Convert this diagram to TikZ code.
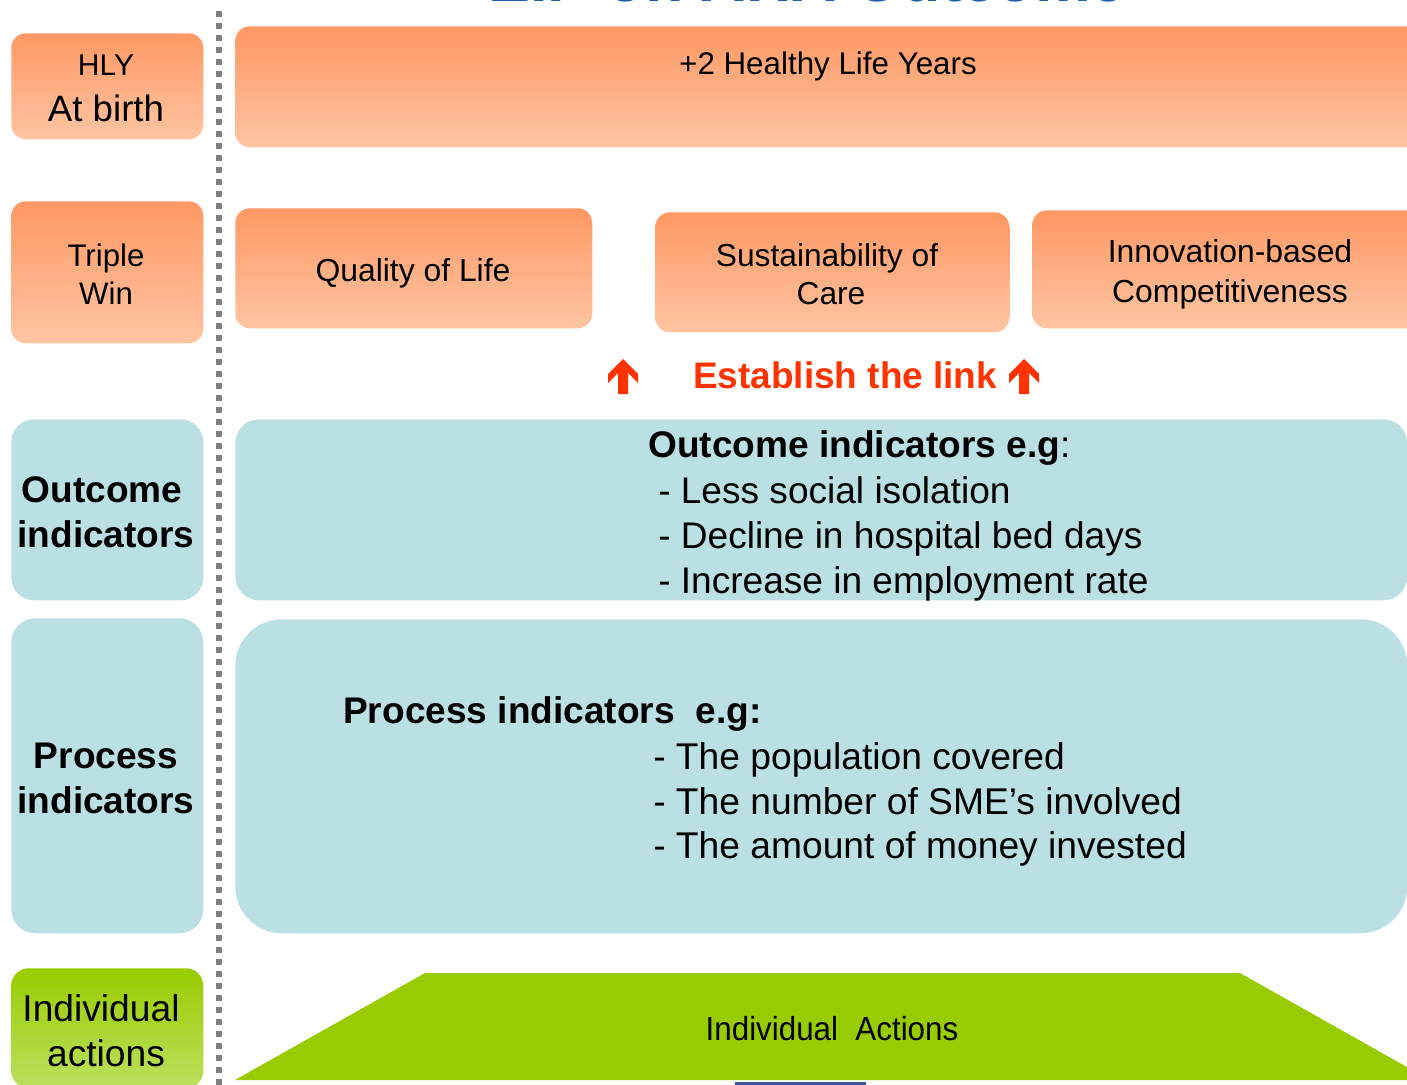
\documentclass[tikz,border=0pt]{standalone}
\usepackage{fontspec}
\setmainfont{Liberation Sans}
\definecolor{orTop}{RGB}{255,152,100}
\definecolor{orBot}{RGB}{255,197,162}
\definecolor{lblue}{RGB}{186,224,227}
\definecolor{lgreen}{RGB}{153,204,0}
\definecolor{lgreenB}{RGB}{188,224,95}
\definecolor{linkred}{RGB}{255,51,0}
\definecolor{titleblue}{RGB}{31,94,165}
\definecolor{dotgray}{RGB}{128,128,128}
\definecolor{barblue}{RGB}{59,89,152}
\newcommand\myfs[1]{\fontsize{#1pt}{#1pt}\selectfont}
\newcommand\mybfs[1]{\bfseries\fontsize{#1pt}{#1pt}\selectfont}
\begin{document}
\begin{tikzpicture}[x=0.75pt,y=-0.75pt,
  box/.style={rectangle, draw=none, inner sep=0pt, anchor=north west},
  obox/.style={box, rounded corners=11pt, top color=orTop, bottom color=orBot},
  bbox/.style={box, fill=lblue},
  gbox/.style={box, rounded corners=13pt, top color=lgreen, bottom color=lgreenB},
  lbl/.style={inner sep=0pt, anchor=base},
  lblw/.style={inner sep=0pt, anchor=base west},
  dotline/.style={draw=dotgray, line width=4.5pt, dash pattern=on 4.5pt off 4.5pt},
  uparrow/.pic={\fill[linkred] (0,0) -- (-15,15) -- (-15,24) -- (-5,14) -- (-5,35) -- (5,35) -- (5,14) -- (15,24) -- (15,15) -- cycle;}
]
\useasboundingbox (0,0) rectangle (1407,1085);
\clip (0,0) rectangle (1407,1085);

% title (cut off at the top)
\node[lbl, font=\mybfs{47}, text=titleblue] (title) at (807,2) {EIP on AHA Outcome};

% dotted separator
\draw[dotline] (219,11) -- (219,1095);

% left column
\node[obox, minimum width=144pt, minimum height=79.5pt] (hlyL) at (11,33) {};
\node[obox, minimum width=144pt, minimum height=106.5pt] (triL) at (11,201) {};
\node[bbox, rounded corners=17pt, minimum width=144pt, minimum height=135.75pt] (outL) at (11,419) {};
\node[bbox, rounded corners=18pt, minimum width=144pt, minimum height=236.25pt] (proL) at (11,618) {};
\node[gbox, minimum width=144pt, minimum height=90pt] (indL) at (11,968) {};

\node[lbl, font=\myfs{22.5}] (tHLY) at (106,75) {HLY};
\node[lbl, font=\myfs{27.5}] (tAtb) at (106,121) {At birth};
\node[lbl, font=\myfs{23.4}] (tTri) at (106,266) {Triple};
\node[lbl, font=\myfs{23.4}] (tWin) at (106,304) {Win};
\node[lbl, font=\mybfs{27.8}] (tOut1) at (102,502) {Outcome};
\node[lbl, font=\mybfs{27.8}] (tOut2) at (106,547) {indicators};
\node[lbl, font=\mybfs{27.8}] (tPro1) at (106,768) {Process};
\node[lbl, font=\mybfs{27.8}] (tPro2) at (106,813) {indicators};
\node[lbl, font=\myfs{27.9}] (tInd1) at (101,1021) {Individual};
\node[lbl, font=\myfs{27.9}] (tInd2) at (106,1066) {actions};

% right column boxes
\node[obox, minimum width=903.75pt, minimum height=90.75pt] (hlyR) at (235,26) {};
\node[obox, minimum width=267.75pt, minimum height=90pt] (qol) at (235,208) {};
\node[obox, minimum width=265.5pt, minimum height=90pt] (sus) at (655,212) {};
\node[obox, minimum width=300pt, minimum height=88.5pt] (inn) at (1032,210) {};
\node[bbox, rounded corners=18pt, minimum width=879pt, minimum height=135.75pt] (outR) at (235,419) {};
\node[bbox, rounded corners=35pt, minimum width=879pt, minimum height=235.5pt] (proR) at (235,619) {};

\node[lbl, font=\myfs{23.5}] (tHLYR) at (828,74) {+2 Healthy Life Years};
\node[lbl, font=\myfs{23.9}] (tQoL) at (413,281) {Quality of Life};
\node[lbl, font=\myfs{23.8}] (tSus1) at (827,266) {Sustainability of};
\node[lbl, font=\myfs{23.8}] (tSus2) at (831,304) {Care};
\node[lbl, font=\myfs{23.9}] (tInn1) at (1230,262) {Innovation-based};
\node[lbl, font=\myfs{23.9}] (tInn2) at (1230,302) {Competitiveness};

% establish the link
\pic at (623,359) {uparrow};
\pic at (1024,359) {uparrow};
\node[lblw, font=\mybfs{27.7}, text=linkred] (tLink) at (693,388) {Establish the link};

% outcome indicators
\node[lblw, font=\myfs{27.8}] (oHead) at (648,457) {\bfseries Outcome indicators e.g\mdseries:};
\node[lblw, font=\myfs{27.8}] (o1) at (658,503) {- Less social isolation};
\node[lblw, font=\myfs{27.8}] (o2) at (658,548) {- Decline in hospital bed days};
\node[lblw, font=\myfs{27.8}] (o3) at (658,593) {- Increase in employment rate};

% process indicators
\node[lblw, font=\mybfs{27.8}] (pHead) at (343,723) {Process indicators~ e.g:};
\node[lblw, font=\myfs{27.9}] (p1) at (653,769) {- The population covered};
\node[lblw, font=\myfs{27.9}] (p2) at (653,814) {- The number of SME's involved};
\node[lblw, font=\myfs{27.9}] (p3) at (653,858) {- The amount of money invested};

% individual actions trapezoid
\fill[lgreen] (235,1080) -- (425,973) -- (1240,973) -- (1430,1080) -- cycle;
\node[lbl, font=\myfs{25}] (tIA) at (832,1040) {\scalebox{0.94}[1]{Individual~ Actions}};
\fill[barblue] (735,1082) rectangle (866,1087);
\end{tikzpicture}
\end{document}
